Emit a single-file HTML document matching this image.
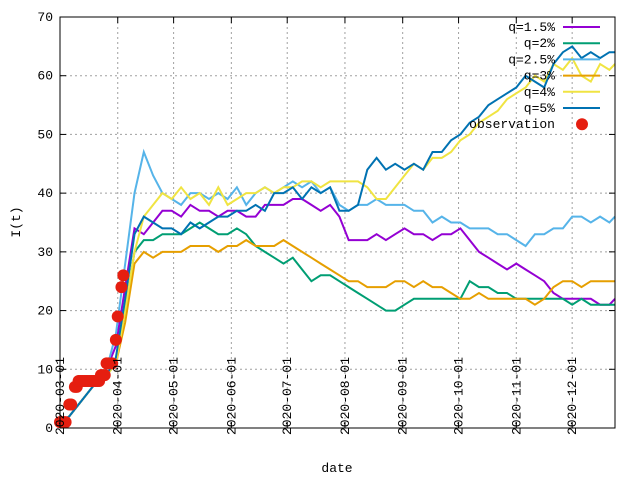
<!DOCTYPE html>
<html><head><meta charset="utf-8"><style>
body{margin:0;background:#fff}
svg{display:block;font-family:"Liberation Mono",monospace;font-size:13px}
</style></head><body>
<svg id="chart" width="640" height="480">
<g id="grid"></g>
<g id="series"></g>
<rect x="60" y="17" width="555" height="411" fill="none" stroke="#000" stroke-width="1"/>
<g id="axes"></g>
<text x="20" y="222" transform="rotate(-90 20 222)" text-anchor="middle">I(t)</text>
<text x="337" y="472" text-anchor="middle">date</text>
<g id="legend"></g>
</svg>
<script>
const days=[0,5,10,15,20,25,30,35,40,45,50,55,60,65,70,75,80,85,90,95,100,105,110,115,120,125,130,135,140,145,150,155,160,165,170,175,180,185,190,195,200,205,210,215,220,225,230,235,240,245,250,255,260,265,270,275,280,285,290,295,298];
const q15=[1,2,4,6,8,10,14,24,34,33,35,37,37,36,38,37,37,36,37,37,36,36,38,38,38,39,39,38,37,38,36,32,32,32,33,32,33,34,33,33,32,33,33,34,32,30,29,28,27,28,27,26,25,23,22,22,22,22,21,21,22];
const q2=[1,2,4,6,8,9,11,20,30,32,32,33,33,33,34,35,34,33,33,34,33,31,30,29,28,29,27,25,26,26,25,24,23,22,21,20,20,21,22,22,22,22,22,22,25,24,24,23,23,22,22,22,22,22,22,21,22,21,21,21,21];
const q25=[1,2,4,6,8,10,16,28,40,47,43,40,39,38,40,40,39,40,39,41,38,40,41,40,41,42,41,42,40,41,38,37,38,38,39,38,38,38,37,37,35,36,35,35,34,34,34,33,33,32,31,33,33,34,34,36,36,35,36,35,36];
const q3=[1,2,4,6,8,9,11,18,28,30,29,30,30,30,31,31,31,30,31,31,32,31,31,31,32,31,30,29,28,27,26,25,25,24,24,24,25,25,24,25,24,24,23,22,22,23,22,22,22,22,22,21,22,24,25,25,24,25,25,25,25];
const q4=[1,2,4,6,8,9,11,20,30,36,38,40,39,41,39,40,38,41,38,39,40,40,41,40,41,41,42,42,41,42,42,42,42,41,39,39,41,43,45,44,46,46,47,49,50,52,53,54,56,57,58,60,59,62,61,63,60,59,62,61,62];
const q5=[1,2,4,6,8,9,12,22,33,36,35,34,34,33,35,34,35,36,36,37,37,38,37,40,40,41,39,41,40,41,37,37,38,44,46,44,45,44,45,44,47,47,49,50,52,53,55,56,57,58,60,59,58,62,64,65,63,64,63,64,64];
const obsDays=[0,1,2,3,5,6,8,9,10,11,12,13,14,15,16,17,18,19,20,21,22,23,24,25,26,28,30,31,33,34];
const obsVals=[1,1,1,1,4,4,7,7,8,8,8,8,8,8,8,8,8,8,8,8,9,9,9,11,11,11,15,19,24,26];
const yTicks=[0,10,20,30,40,50,60,70];
const xTickLabels=["2020-03-01","2020-04-01","2020-05-01","2020-06-01","2020-07-01","2020-08-01","2020-09-01","2020-10-01","2020-11-01","2020-12-01"];
const xTickDays=[0,31,61,92,122,153,184,214,245,275];
const seriesNames=["q=1.5%","q=2%","q=2.5%","q=3%","q=4%","q=5%"];
const seriesColors=["#9400d3","#009e73","#56b4e9","#e69f00","#f0e442","#0072b2"];

const NS="http://www.w3.org/2000/svg";
const X=d=>60+d*555/298, Y=v=>428-v*411/70;
function mk(tag,attrs,parent){const e=document.createElementNS(NS,tag);for(const k in attrs)e.setAttribute(k,attrs[k]);parent.appendChild(e);return e;}
const grid=document.getElementById('grid'),axes=document.getElementById('axes'),ser=document.getElementById('series'),leg=document.getElementById('legend');
yTicks.forEach(v=>{
  const y=Y(v);
  if(v>0&&v<70){const g=mk('line',{x1:60,x2:615,y1:y,y2:y,stroke:'#a0a0a0','stroke-dasharray':'2,3'},grid);
  
  }
  mk('line',{x1:60,x2:66,y1:y,y2:y,stroke:'#000'},axes);
  mk('line',{x1:609,x2:615,y1:y,y2:y,stroke:'#000'},axes);
  const t=mk('text',{x:53,y:y+4,'text-anchor':'end'},axes);t.textContent=v;
  
  
});
xTickDays.forEach((d,i)=>{
  const x=X(d);
  if(i>0){const g=mk('line',{x1:x,x2:x,y1:17,y2:428,stroke:'#a0a0a0','stroke-dasharray':'2,3'},grid);
  
  }
  mk('line',{x1:x,x2:x,y1:422,y2:428,stroke:'#000'},axes);
  mk('line',{x1:x,x2:x,y1:17,y2:23,stroke:'#000'},axes);
  const t=mk('text',{x:x+4,y:435,transform:`rotate(-90 ${x+4} 435)`},axes);t.textContent=xTickLabels[i];
  
  
});
[q15,q2,q25,q3,q4,q5].forEach((s,i)=>{
  const p=mk('polyline',{points:s.map((v,j)=>X(days[j]).toFixed(1)+','+Y(v).toFixed(1)).join(' '),fill:'none',stroke:seriesColors[i],'stroke-width':2},ser);
  
  
});
obsDays.forEach((d,i)=>{
  const c=mk('circle',{cx:X(d),cy:Y(obsVals[i]),r:6,fill:'#e51e10'},ser);
  
  
});
seriesNames.concat(["observation"]).forEach((n,i)=>{
  const y=27+i*16.2;
  const t=mk('text',{x:555,y:y+4,'text-anchor':'end'},leg);t.textContent=n;
  
  
  if(i<6){const l=mk('line',{x1:563,x2:600,y1:y,y2:y,stroke:seriesColors[i],'stroke-width':2},leg);
  
  }
  else{const c=mk('circle',{cx:582,cy:y,r:6,fill:'#e51e10'},leg);
  
  }
});
</script>
</body></html>
